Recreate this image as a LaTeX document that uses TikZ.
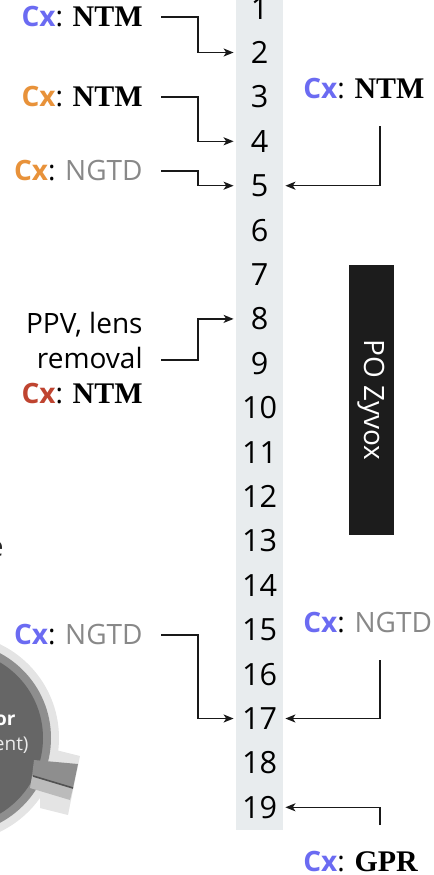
\documentclass[tikz,border=0pt]{standalone}
\usepackage{fontspec}
\setmainfont{Open Sans}
\newfontfamily\cxserif[Scale=1.07]{Liberation Serif}
\usepackage{tikz}
\usetikzlibrary{arrows.meta,positioning}

\definecolor{cxblue}{HTML}{6B6BF2}
\definecolor{cxorange}{HTML}{E8923A}
\definecolor{cxred}{HTML}{BF4430}
\definecolor{ngtdgray}{HTML}{888888}
\definecolor{colbg}{HTML}{E8ECEE}
\definecolor{drugbox}{HTML}{1C1C1C}
\definecolor{eyerim}{HTML}{E4E4E4}
\definecolor{eyemid}{HTML}{8E8E8E}
\definecolor{eyedark}{HTML}{666666}

\newcommand{\cxtag}[1]{\textcolor{#1}{\bfseries Cx}:}
\newcommand{\ntm}{{\cxserif\bfseries NTM}}
\newcommand{\gpr}{{\cxserif\bfseries GPR}}
\newcommand{\ngtd}{\textcolor{ngtdgray}{NGTD}}

\begin{document}
\begin{tikzpicture}[
    x=0.5pt,
    y=-0.5pt,
    node distance=22.2pt,
    >={Stealth[length=5pt,width=4pt,inset=1.3pt]},
    font=\fontsize{14}{17.5}\selectfont,
    num/.style={
		inner sep=0pt,
		minimum width=23.5pt,
		font=\fontsize{15.3}{18}\selectfont
	},
	column/.style={
		rectangle,
		fill=colbg,
		inner sep=0pt,
		minimum width=23.5pt,
		minimum height=420pt
	},
	cxleft/.style={
		inner sep=0pt,
		anchor=east,
		align=right
	},
	cxright/.style={
		inner sep=0pt,
		anchor=west
	},
	drug/.style={
		rectangle,
		fill=drugbox,
		text=white,
		rotate=-90,
		inner sep=0pt,
		minimum width=135pt,
		minimum height=22.5pt
	},
	link/.style={
		draw=black!90,
		line width=0.75pt,
		->,
		shorten >=1pt
	}
  ]

\useasboundingbox (0,0) rectangle (434,875);
\clip (0,0) rectangle (434,875);

% // The eye, running off the left edge
\fill [eyerim] (-45,738) circle [radius=52pt];
\fill [eyerim] (40,746) -- (80,756) -- (68,815) -- (40,808) -- cycle;
\fill [eyemid] (-45,738) circle [radius=48pt];
\fill [eyedark] (-45,738) circle [radius=44pt];
\fill [eyemid] (34,760) -- (78,764) -- (73,788) -- (32,776) -- cycle;
\fill [eyemid!60] (32,776) -- (73,788) -- (70,800) -- (30,788) -- cycle;
\draw [eyedark!80!black, line width=0.8pt] (33,776) -- (73,788);
\node [white, font=\fontsize{9.5}{11}\selectfont\bfseries, inner sep=0pt, anchor=base east] (eyeor) at (16,725) {or};
\node [white!92!black, font=\fontsize{9.5}{11}\selectfont, inner sep=0pt, anchor=base east] (eyeent) at (29,750) {ent)};
\node [black!85, inner sep=0pt, anchor=base east] (cut) at (4,556) {e};

% // The day column
\node [column] (column) at (259.5,410) {};
\node [num] (n1) at (259.5,8.1) {1};
\node [num, below of=n1] (n2) {2};
\node [num, below of=n2] (n3) {3};
\node [num, below of=n3] (n4) {4};
\node [num, below of=n4] (n5) {5};
\node [num, below of=n5] (n6) {6};
\node [num, below of=n6] (n7) {7};
\node [num, below of=n7] (n8) {8};
\node [num, below of=n8] (n9) {9};
\node [num, below of=n9] (n10) {10};
\node [num, below of=n10] (n11) {11};
\node [num, below of=n11] (n12) {12};
\node [num, below of=n12] (n13) {13};
\node [num, below of=n13] (n14) {14};
\node [num, below of=n14] (n15) {15};
\node [num, below of=n15] (n16) {16};
\node [num, below of=n16] (n17) {17};
\node [num, below of=n17] (n18) {18};
\node [num, below of=n18] (n19) {19};

% // Drug bar
\node [drug] (zyvox) at (371.5,400) {PO Zyvox};

% left hand cultures
\coordinate (jog) at (198,0);
\node [cxleft] (cx2) at (143,17) {\cxtag{cxblue} \ntm};
\node [cxleft] (cx4) at (143,97) {\cxtag{cxorange} \ntm};
\node [cxleft] (cx5) at (143,171) {\cxtag{cxorange} \ngtd};
\node [cxleft] (ppv) at (143,358) {PPV, lens\\removal\\\cxtag{cxred} \ntm};
\node [cxleft] (cx17l) at (143,635) {\cxtag{cxblue} \ngtd};

\draw [link] ([xshift=9pt]cx2.east) -| (jog |- n2) -- (n2.west);
\draw [link] ([xshift=9pt]cx4.east) -| (jog |- n4) -- (n4.west);
\draw [link] ([xshift=9pt]cx5.east) -| (jog |- n5) -- (n5.west);
\draw [link] ([xshift=9pt,yshift=-1pt]ppv.east) -| (jog |- n8) -- (n8.west);
\draw [link] ([xshift=9pt]cx17l.east) -| (jog |- n17) -- (n17.west);

% right hand cultures
\node [cxright] (cx5r) at (303,89) {\cxtag{cxblue} \ntm};
\node [cxright] (cx17r) at (303,623) {\cxtag{cxblue} \ngtd};
\node [cxright] (cx19) at (303,862) {\cxtag{cxblue} \gpr};
\coordinate (tail5) at (380,126);
\coordinate (tail17) at (380,660);
\coordinate (tail19) at (380,825);

\draw [link] (tail5) |- (n5.east);
\draw [link] (tail17) |- (n17.east);
\draw [link] (tail19) |- (n19.east);

\end{tikzpicture}
\end{document}
